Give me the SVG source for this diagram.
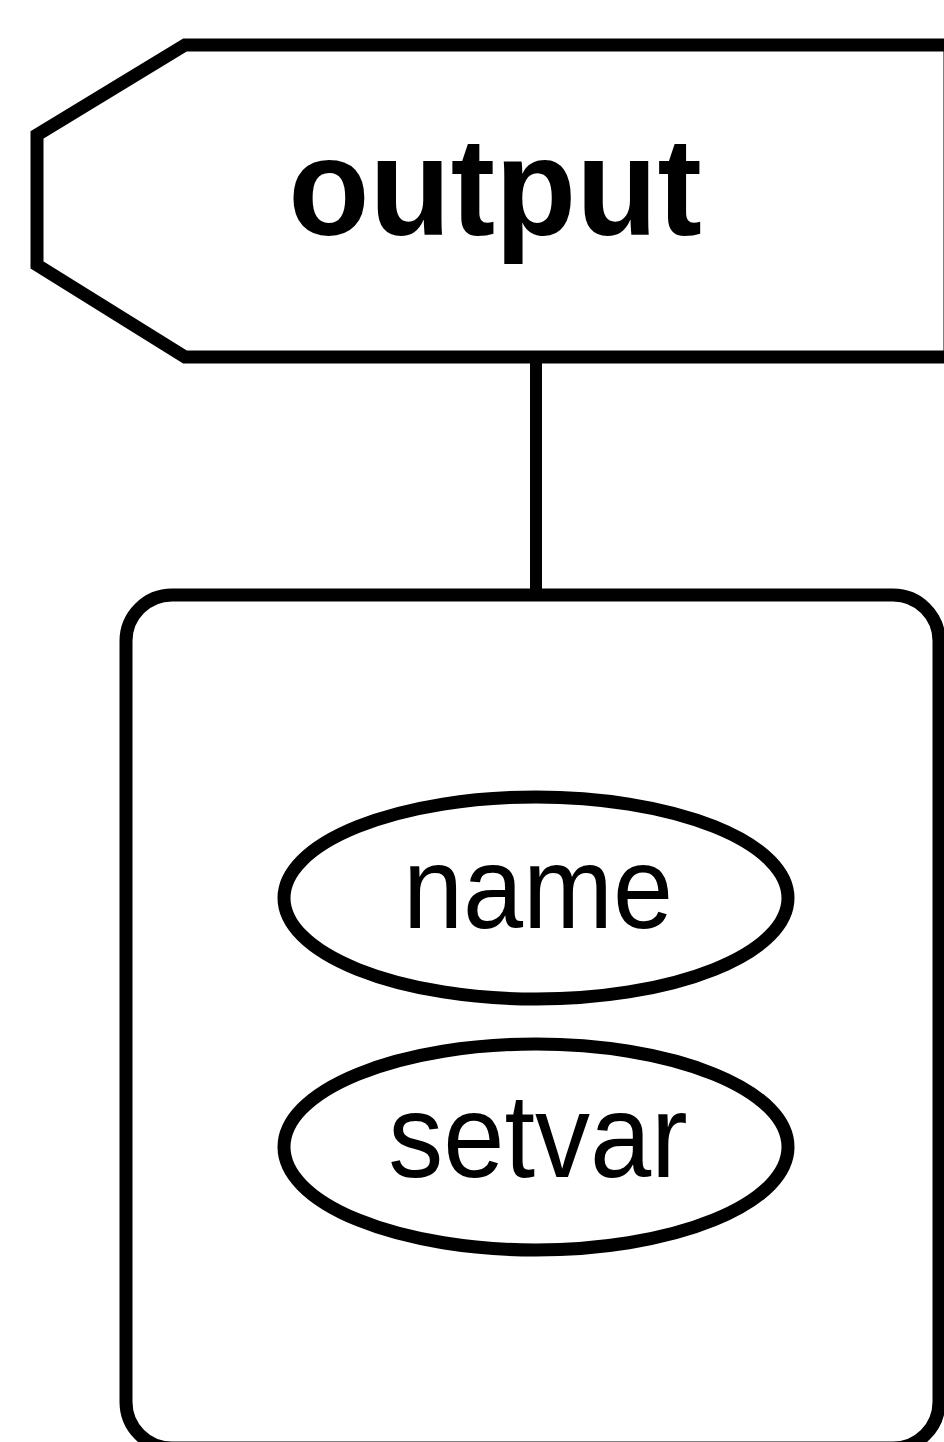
<svg xmlns="http://www.w3.org/2000/svg" width="944" height="1442" viewBox="0 0 944 1442">
  <style>
    .shape { fill: #ffffff; stroke: #000000; stroke-width: 13; stroke-linejoin: miter; }
    .edge { fill: none; stroke: #000000; stroke-width: 12; }
    .label { font-family: "Liberation Sans", Arial, sans-serif; fill: #000000; text-anchor: middle; }
  </style>
  <rect x="0" y="0" width="944" height="1442" fill="#ffffff"/>

  <!-- connectors -->
  <g id="connectors">
    <line class="edge" x1="536" y1="358" x2="536" y2="595"/>
  </g>

  <!-- output tag -->
  <g id="node-output">
    <polygon class="shape" points="185,45 950,45 950,357 185,357 37,265 37,135"/>
    <text class="label" transform="translate(495 235) scale(1 1.05)" font-size="133" font-weight="bold">output</text>
  </g>

  <!-- container -->
  <g id="node-container">
    <rect class="shape" x="126" y="595" width="813" height="853" rx="46" ry="46"/>
  </g>

  <!-- attributes -->
  <g id="node-name">
    <ellipse class="shape" cx="536" cy="898" rx="252" ry="101"/>
    <text class="label" transform="translate(538 928) scale(1 1.08)" font-size="108">name</text>
  </g>
  <g id="node-setvar">
    <ellipse class="shape" cx="536" cy="1147" rx="252" ry="103"/>
    <text class="label" transform="translate(538 1177) scale(1 1.08)" font-size="110">setvar</text>
  </g>
</svg>
